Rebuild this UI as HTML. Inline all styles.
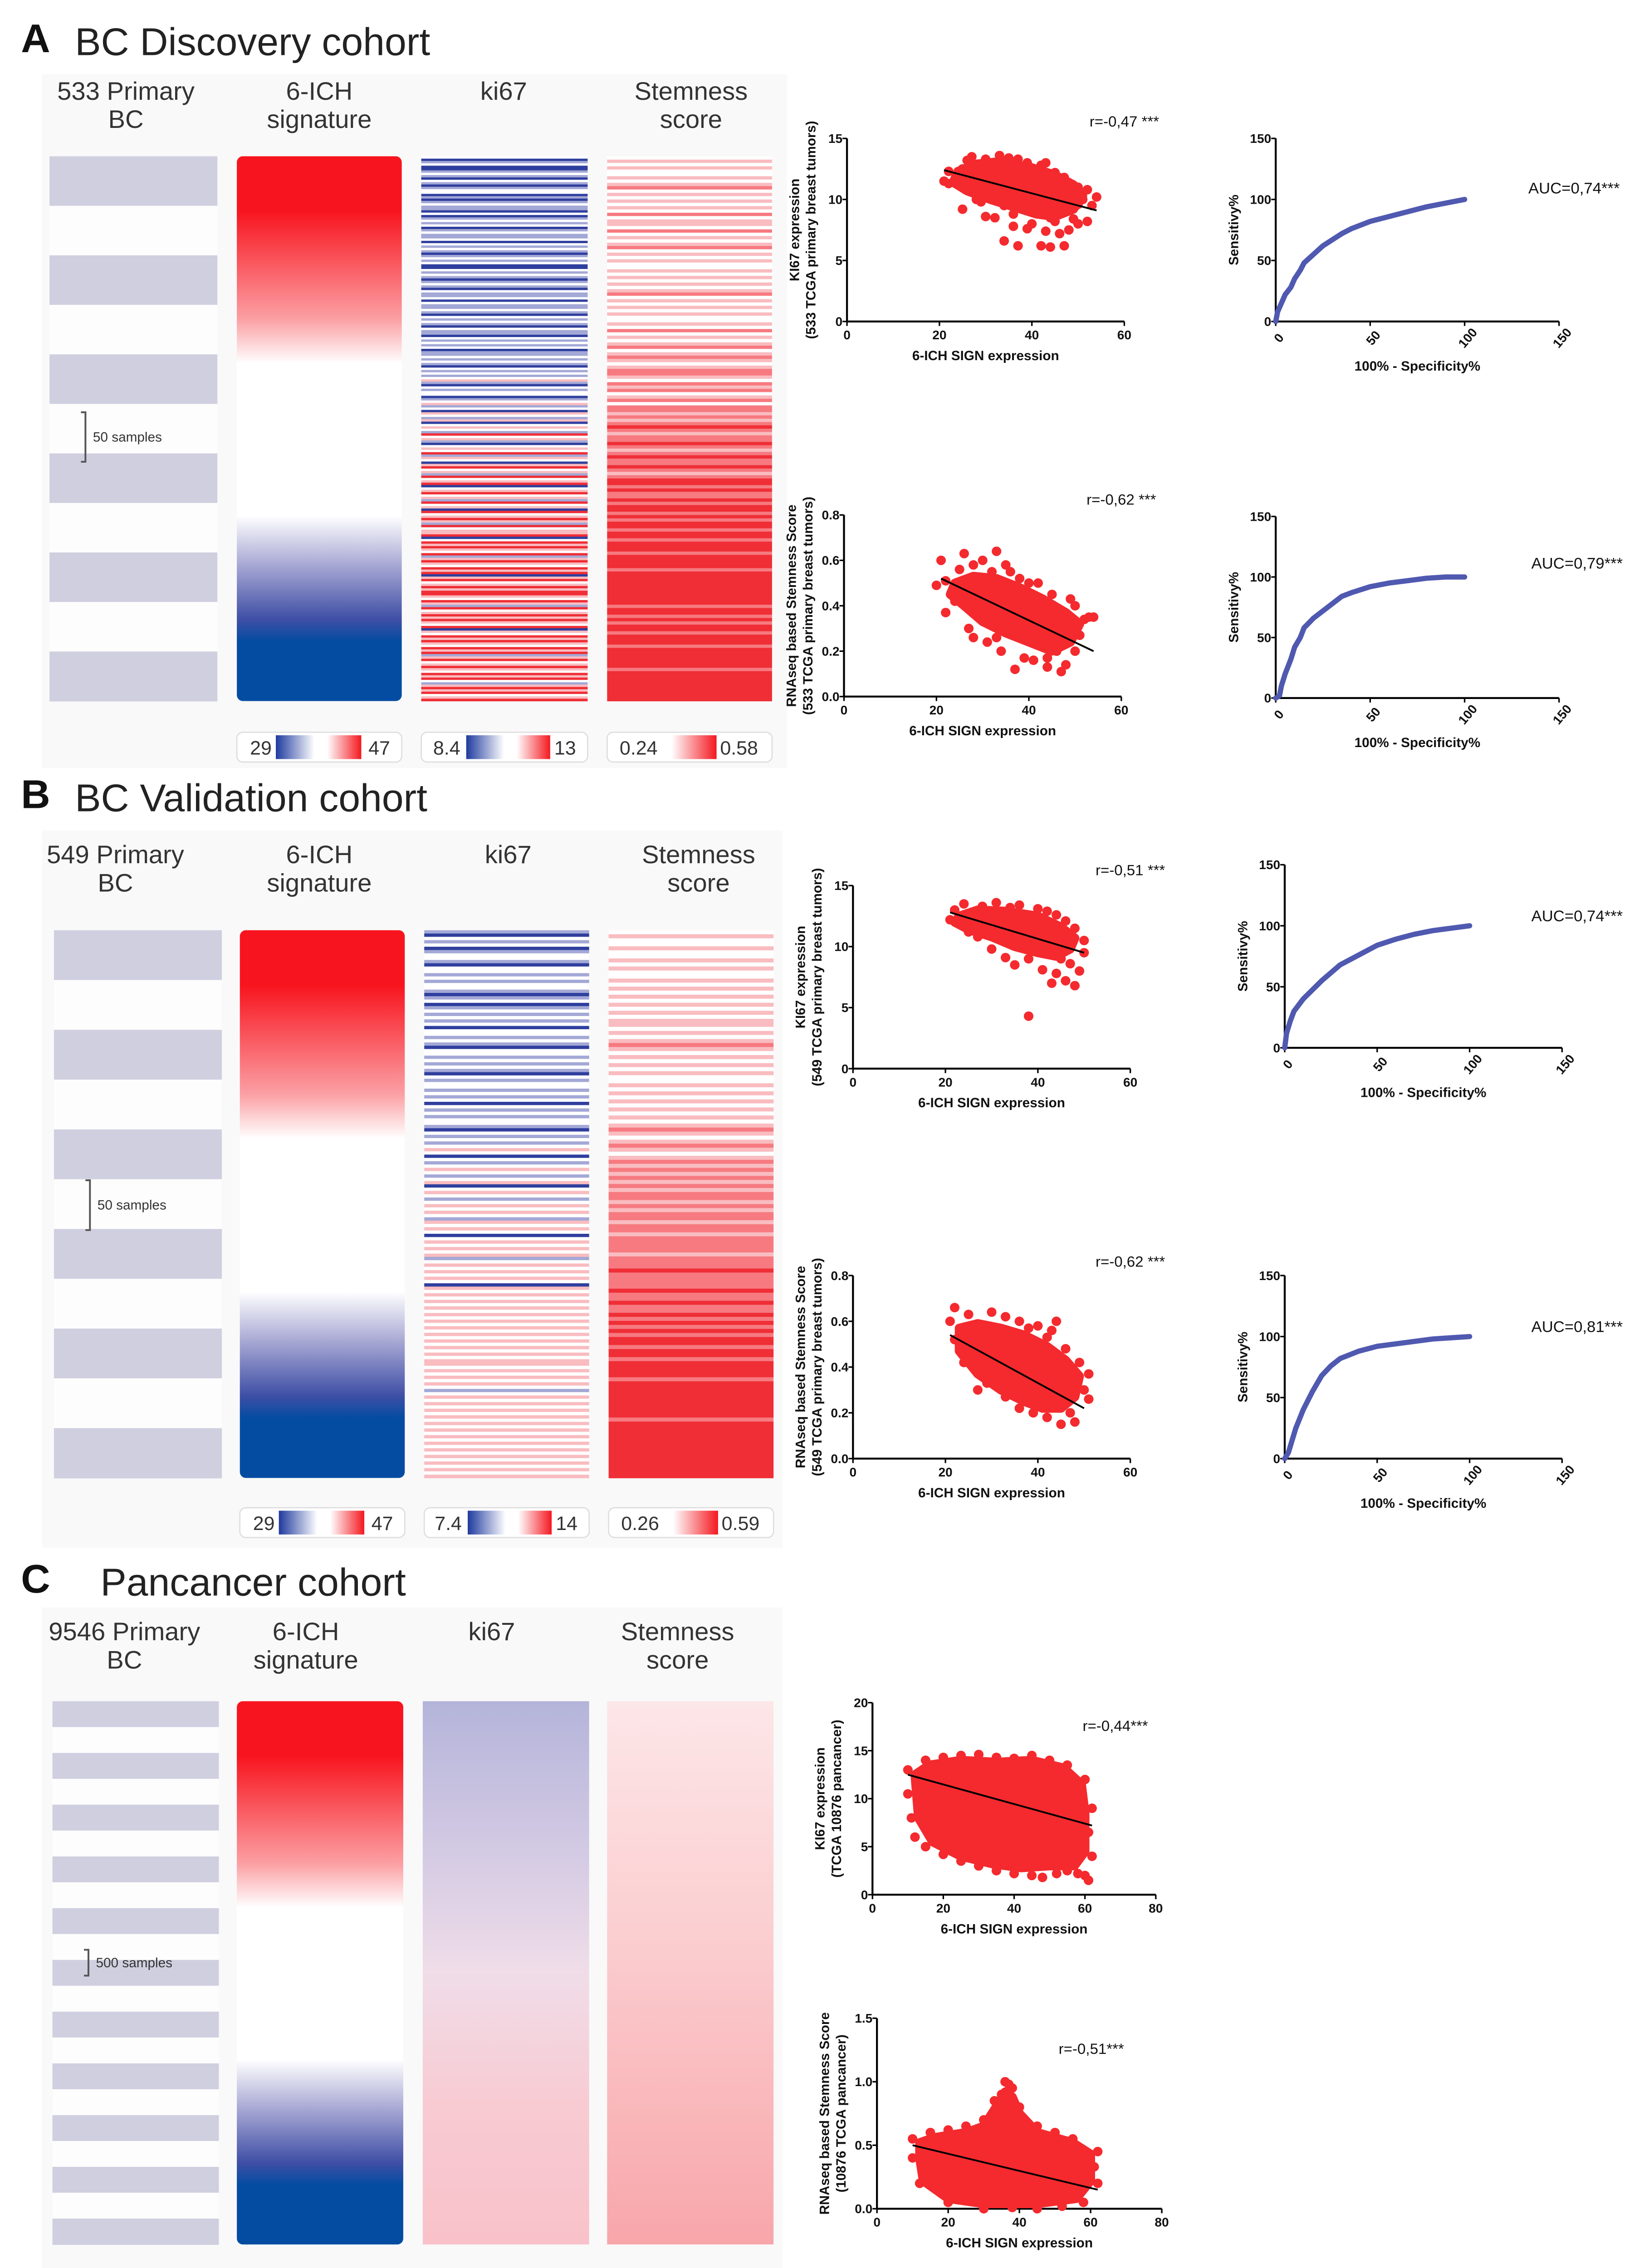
<!DOCTYPE html>
<html><head><meta charset="utf-8"><style>
html,body{margin:0;padding:0;background:#fff;overflow:hidden;width:3635px;height:5143px}
svg{display:block}
text{font-family:"Liberation Sans",Arial,sans-serif}
</style></head><body>
<svg id="fig" xmlns="http://www.w3.org/2000/svg" width="3635" height="5143" viewBox="0 0 1100 1567.4" preserveAspectRatio="none"></svg>
<script>
// ---------- DATA ----------
const scatterXTicks=[0,20,40,60];
const scatterXTicksC=[0,20,40,60,80];
const ki67YTicks=[0,5,10,15];
const stemYTicks=[0,0.2,0.4,0.6,0.8];
const ki67YTicksC=[0,5,10,15,20];
const stemYTicksC=[0,0.5,1.0,1.5];
const rocTicks=[0,50,100,150];

const a1Hull=[[24,12.3],[28,12.9],[33,13.1],[40,12.6],[45,12],[49,11.2],[51,10.3],[49,9.2],[45,8.6],[41,8.8],[36,9.4],[31,10],[26,10.7],[23,11.4]];
const a1Points=[[21,11.5],[22,11.3],[22,12.3],[24,11.2],[25,12.5],[25,9.2],[26,13.2],[27,13.5],[28,12.8],[29,9.8],[30,13.3],[31,13],[32,8.5],[33,13.3],[33,13.6],[34,9.5],[34,6.6],[35,13.4],[36,8.8],[37,6.2],[37,13.3],[38,9.6],[39,13],[40,8],[41,9.2],[42,6.2],[42,12.8],[43,13],[44,8.5],[44,6.1],[45,12.2],[46,7.2],[47,6.2],[47,11.8],[48,9.2],[48,7.5],[49,8.4],[50,9.6],[50,11],[51,10],[52,8.2],[52,10.8],[53,9.5],[54,10.2],[30,8.6],[39,7.6],[45,8.2],[28,10],[26,11.8],[36,7.8],[43,7.4],[46,10.8],[50,8]];
const a1Line=[[21,12.4],[54,9.1]];

const a2Hull=[[24,0.5],[28,0.53],[33,0.52],[38,0.48],[43,0.43],[48,0.37],[51,0.32],[49,0.24],[45,0.2],[40,0.24],[35,0.28],[30,0.33],[26,0.4],[23,0.45]];
const a2Points=[[21,0.6],[26,0.63],[33,0.64],[37,0.12],[42,0.5],[47,0.11],[44,0.13],[54,0.35],[20,0.49],[22,0.37],[28,0.26],[31,0.24],[50,0.4],[46,0.2],[30,0.6],[48,0.14],[51,0.27],[34,0.2],[39,0.17],[25,0.56],[28,0.58],[36,0.55],[38,0.52],[40,0.5],[45,0.45],[49,0.43],[52,0.34],[53,0.35],[50,0.2],[44,0.17],[41,0.16],[33,0.26],[27,0.3],[24,0.42],[22,0.51],[35,0.58],[47,0.3],[32,0.55]];
const a2Line=[[21,0.52],[54,0.2]];

const b1Hull=[[23,12.5],[27,13],[33,12.9],[40,12.5],[45,11.6],[48,10.7],[47,9.8],[44,9.2],[40,9.5],[35,10],[30,10.8],[25,11.4],[22,12]];
const b1Points=[[38,4.3],[43,7],[46,7.2],[48,6.8],[49,8],[35,8.5],[30,9.8],[22,13],[44,7.8],[41,8.1],[27,10.8],[33,9.1],[21,12.2],[24,13.5],[28,13.3],[31,13.6],[36,13.4],[40,13.1],[44,12.6],[46,12.1],[48,11.5],[50,10.5],[50,9.5],[47,8.6],[38,9],[25,11.2],[45,9],[42,12.9],[34,13.2]];
const b1Line=[[21,12.8],[50,9.5]];

const b2Hull=[[23,0.57],[27,0.59],[32,0.57],[37,0.54],[42,0.49],[46,0.43],[49,0.36],[48,0.27],[45,0.22],[41,0.22],[37,0.25],[32,0.3],[27,0.37],[23,0.47]];
const b2Points=[[22,0.66],[30,0.64],[40,0.58],[48,0.16],[45,0.15],[50,0.3],[27,0.3],[24,0.42],[36,0.22],[43,0.56],[21,0.6],[25,0.63],[33,0.62],[36,0.6],[42,0.53],[46,0.48],[49,0.42],[51,0.37],[51,0.26],[47,0.2],[42,0.18],[39,0.2],[33,0.27],[29,0.33],[22,0.52],[44,0.6],[38,0.57]];
const b2Line=[[21,0.54],[50,0.22]];

const c1Hull=[[12,12.5],[16,13.5],[25,14],[35,13.8],[45,14],[54,13.2],[59,11.5],[60,8.5],[60,4.5],[57,3],[50,3],[42,2.8],[34,3.2],[25,4],[17,5.5],[13,8]];
const c1Points=[[61,1.5],[58,2.2],[12,6],[48,1.8],[10,13],[15,14],[25,14.5],[35,14.3],[45,14.5],[55,13.5],[60,12],[62,9],[62,4],[60,2],[55,2.5],[45,2],[35,2.5],[25,3.5],[15,5],[11,8],[20,14.3],[30,14.6],[40,14.2],[50,14],[61,6.5],[52,2.2],[40,2.2],[30,3],[20,4.2],[10,10.5]];
const c1Line=[[10,12.5],[62,7.2]];

const c2Hull=[[12,0.52],[16,0.56],[25,0.6],[30,0.65],[33,0.78],[36,0.92],[38,0.88],[40,0.75],[45,0.6],[55,0.52],[60,0.43],[60,0.22],[56,0.08],[45,0.04],[30,0.04],[20,0.08],[13,0.22],[12,0.4]];
const c2Points=[[37,0.98],[35,0.9],[34,0.78],[10,0.55],[15,0.6],[25,0.65],[30,0.7],[33,0.85],[36,1.0],[38,0.95],[40,0.8],[45,0.65],[55,0.55],[62,0.45],[62,0.2],[58,0.05],[45,0],[30,0],[20,0.05],[12,0.2],[10,0.4],[50,0.6],[20,0.62],[38,0.01],[52,0.02],[61,0.33]];
const c2Line=[[10,0.5],[62,0.15]];

const rocA1=[[0,0],[1,8],[3,15],[5,22],[8,28],[10,35],[13,42],[15,48],[20,55],[25,62],[30,67],[35,72],[40,76],[50,82],[60,86],[70,90],[80,94],[90,97],[100,100]];
const rocA2=[[0,0],[2,2],[3,10],[5,20],[8,32],[10,42],[13,50],[15,58],[20,66],[25,72],[30,78],[35,84],[40,87],[50,92],[60,95],[70,97],[80,99],[90,100],[100,100]];
const rocB1=[[0,0],[1,12],[3,22],[5,30],[10,40],[20,55],[30,68],[40,76],[50,84],[60,89],[70,93],[80,96],[90,98],[100,100]];
const rocB2=[[0,0],[2,5],[4,15],[6,25],[10,40],[15,55],[20,68],[25,76],[30,82],[40,88],[50,92],[60,94],[70,96],[80,98],[90,99],[100,100]];

const ki67A="wBbwBBbwbBwbBbwwBbBbwbbBwBbwbwBbwbbwBwbwbBbwbwBBwbwbBbwbBwbbwBwbbwbBwbwbBwbbBwbwbwBbbwbwbBwbwbwpbBwbwwBbwpbwBpwbpBwpwbrwpbBwpwrbpwBprwpbrwprBwprwpbrwpBrwprpbrwpprBwrprpwrbprpwrprBprwprprrpwrpbrwprprpwrBpwrprpwrprbprwprpwrprwbprprwpr";
const stemA="wpwpwwpwpqwpwpwpwqwppwqwpwpqwpwpwwpwpwpwpqwpwpwpwwpwqwpwpqwpqpwpqqpwqpqwpqwqqpqpqrqpqqrqpqrqqrqpqrrqrqqrqrrqrqrrqrrqrrrqrrrrqrrrrrrrrrrqrrqrqrrqrrrqrrrrrrqrrrrrrrrr";
const ki67B="bBwbwBbwwbBwwbwbwwbBbwBbwbwbwBwwbwbBwwbwbwbBwbwwbwbwBwbwbwwbBwbwbwpwBwbwpwbwpBwpwbwpwpwbpwpwBwpwpwpbwpwpwpwBpwpwpwpwpwpwpwpwpwpwpwppwpwpwpwbwpwpwpwpwpwpwpwpwpwpwpwpwp";
const stemB="wpwwpwwpwpwwpwpwpwpwpwppwpwpqpwpwpwpwwpwpwpwpwpwpqpwpqpwpqpqpqpqpqqpqpqqpqqpqqqqpqqqrqqqqrqqrqqrqrqrqrrqrrqrrrrqrrrrrrrrrqrrrrrrrrrrrrrr";

// ---------- HELPERS ----------
const NS="http://www.w3.org/2000/svg";
const svg=document.getElementById('fig');
function mk(tag,attrs,parent){const e=document.createElementNS(NS,tag);for(const k in attrs)e.setAttribute(k,attrs[k]);(parent||svg).appendChild(e);return e;}
function txt(s,x,y,size,opts,parent){const o=Object.assign({x:x,y:y,'font-size':size,fill:'#222'},opts||{});const t=mk('text',o,parent);t.textContent=s;return t;}

let gid=0;
function grad(stops,vertical){const d=svg.querySelector('defs')||mk('defs',{});const id='g'+(gid++);const g=mk('linearGradient',vertical?{id:id,x1:0,y1:0,x2:0,y2:1}:{id:id,x1:0,y1:0,x2:1,y2:0},d);stops.forEach(s=>mk('stop',{offset:s[0],'stop-color':s[1]},g));return 'url(#'+id+')';}

const stripeColor={B:'#2f3f9e',b:'#a3a8d6',w:'#ffffff',p:'#f9bcc0',q:'#f67a80',r:'#ef2e36'};

function panel(label,title,tx,bg,heads,cols,bandCount,bracketY,bracketText,ki67,stem,legends,letterY){
  const g=mk('g',{});
  
  
  const bgr=mk('rect',{x:bg[0],y:bg[1],width:bg[2],height:bg[3],fill:'#f9f9f9'},g);
  
  
  const l=txt(label,14,letterY,27,{'font-weight':'bold',fill:'#111'},g);
  
  
  const t=txt(title,tx,letterY+2,26,{fill:'#222'},g);
  
  
  heads.forEach(h=>{h.lines.forEach((ln,i)=>{const e=txt(ln,h.cx,h.y+i*19,17,{'text-anchor':'middle',fill:'#333'},g);
    
    });});
  const [y0,y1]=cols.y;const H=y1-y0;
  const c1=cols.x[0];const bh=H/bandCount;
  for(let i=0;i<bandCount;i++){const r=mk('rect',{x:c1[0],y:y0+i*bh,width:c1[1]-c1[0],height:bh+0.3,fill:i%2==0?'#d0cfe0':'#fdfdfd'},g);
    
    }
  const bx=c1[0]+24;
  mk('path',{d:`M${bx-3},${bracketY} H${bx} V${bracketY+bh} H${bx-3}`,stroke:'#555',fill:'none','stroke-width':1.2},g);
  const st=txt(bracketText,bx+5,bracketY+bh/2+3,9,{fill:'#333'},g);
  
  
  const c2=cols.x[1];
  const sig=mk('rect',{x:c2[0],y:y0,width:c2[1]-c2[0],height:H,rx:4,fill:grad([[0,'#f8141e'],[0.1,'#f8141e'],[0.3,'#fba0a4'],[0.38,'#ffffff'],[0.66,'#ffffff'],[0.75,'#a8a8d4'],[0.85,'#3f4fa5'],[0.89,'#044ca2'],[1,'#044ca2']],true)},g);
  
  
  [[cols.x[2],ki67,'ki67-heatmap'],[cols.x[3],stem,'stemness-heatmap']].forEach(([c,s,nm])=>{
    if(typeof s==='string'){
      const rh=H/s.length;
      for(let i=0;i<s.length;i++){const r=mk('rect',{x:c[0],y:y0+i*rh,width:c[1]-c[0],height:rh+0.2,fill:stripeColor[s[i]]},g);
        
        }
    } else {
      const r=mk('rect',{x:c[0],y:y0,width:c[1]-c[0],height:H,fill:grad(s,true)},g);
      
      
    }
  });
  legends.forEach(lg=>{
    const bx=mk('rect',{x:lg.x,y:lg.y,width:lg.w,height:20,rx:4,fill:'#fff',stroke:'#ddd','stroke-width':0.8},g);
    
    
    const a=txt(lg.lo,lg.lx,lg.y+15,13,{'text-anchor':'middle',fill:'#333'},g);
    
    
    const gb=mk('rect',{x:lg.bx,y:lg.y+2,width:lg.bw,height:16,fill:grad(lg.stops,false)},g);
    
    
    const b=txt(lg.hi,lg.hx,lg.y+15,13,{'text-anchor':'middle',fill:'#333'},g);
    
    
  });
}

function axes(g,c,xt,yt,rotX,xl,ylLines){
  const sx=v=>c.ox+v/c.xmax*c.w, sy=v=>c.oy-v/c.ymax*c.h;
  mk('line',{x1:c.ox,y1:c.oy,x2:c.ox,y2:c.oy-c.h,stroke:'#000','stroke-width':1.3},g);
  mk('line',{x1:c.ox,y1:c.oy,x2:c.ox+c.w,y2:c.oy,stroke:'#000','stroke-width':1.3},g);
  yt.forEach(v=>{mk('line',{x1:c.ox-3,y1:sy(v),x2:c.ox,y2:sy(v),stroke:'#000','stroke-width':1},g);
    const s=c.ymax<2?v.toFixed(1):String(v);
    const t=txt(s,c.ox-3,sy(v)+3,8.5,{'text-anchor':'end','font-weight':'bold',fill:'#111'},g);
    
    });
  xt.forEach(v=>{mk('line',{x1:sx(v),y1:c.oy,x2:sx(v),y2:c.oy+3,stroke:'#000','stroke-width':1},g);
    let t;
    if(rotX){t=txt(String(v),sx(v)+2,c.oy+14,8.5,{'text-anchor':'middle','font-weight':'bold',fill:'#111',transform:`rotate(-50 ${sx(v)+2} ${c.oy+11})`},g);}
    else t=txt(String(v),sx(v),c.oy+12,8.5,{'text-anchor':'middle','font-weight':'bold',fill:'#111'},g);
    
    });
  const xt2=txt(xl,c.ox+c.w/2,c.oy+(rotX?33:26),9,{'text-anchor':'middle','font-weight':'bold',fill:'#111'},g);
  
  
  ylLines.forEach((s,i)=>{const x=c.ox-(rotX?25:32)+i*11;const y=c.oy-c.h/2;
    const t=txt(s,x,y,9,{'text-anchor':'middle','font-weight':'bold',fill:'#111',transform:`rotate(-90 ${x} ${y})`},g);
    
    });
  return [sx,sy];
}

function scatter(name,c,xt,yt,hull,pts,line,rlab,rpos,ylLines){
  const g=mk('g',{});
  
  
  const [sx,sy]=axes(g,c,xt,yt,false,'6-ICH SIGN expression',ylLines);
  const hp=mk('polygon',{points:hull.map(p=>sx(p[0])+','+sy(p[1])).join(' '),fill:'#f42a2e',stroke:'#f42a2e','stroke-width':6,'stroke-linejoin':'round'},g);
  
  
  pts.forEach(p=>{const d=mk('circle',{cx:sx(p[0]),cy:sy(p[1]),r:3.2,fill:'#f42a2e'},g);
    
    });
  const ln=mk('line',{x1:sx(line[0][0]),y1:sy(line[0][1]),x2:sx(line[1][0]),y2:sy(line[1][1]),stroke:'#000','stroke-width':1.2},g);
  
  
  const r=txt(rlab,rpos[0],rpos[1],10,{'text-anchor':'middle',fill:'#111'},g);
  
  
}

function roc(name,c,data,auc,apos){
  const g=mk('g',{});
  
  
  const [sx,sy]=axes(g,c,rocTicks,rocTicks,true,'100% - Specificity%',['Sensitivy%']);
  const p=mk('polyline',{points:data.map(d=>sx(d[0])+','+sy(d[1])).join(' '),fill:'none',stroke:'#5059b0','stroke-width':3.5,'stroke-linejoin':'round','stroke-linecap':'round'},g);
  
  
  const a=txt(auc,apos[0],apos[1],10.5,{'text-anchor':'middle',fill:'#111'},g);
  
  
}

const bwr=[[0,'#1f3a9e'],[0.45,'#ffffff'],[0.6,'#ffffff'],[1,'#f41820']];
const wr=[[0,'#ffffff'],[1,'#f41820']];

// ---------- PANEL A ----------
panel('A','BC Discovery cohort',50,[28,50,497,466],
 [{cx:84,y:67,lines:['533 Primary','BC']},{cx:213,y:67,lines:['6-ICH','signature']},{cx:336,y:67,lines:['ki67']},{cx:461,y:67,lines:['Stemness','score']}],
 {x:[[33,145],[158,268],[281,392],[405,515]],y:[105,471]},11,277,'50 samples',ki67A,stemA,
 [{x:158,y:492,w:110,lo:'29',lx:174,bx:184,bw:57,stops:bwr,hi:'47',hx:253},
  {x:281,y:492,w:111,lo:'8.4',lx:298,bx:311,bw:56,stops:bwr,hi:'13',hx:377},
  {x:405,y:492,w:110,lo:'0.24',lx:426,bx:448,bw:30,stops:wr,hi:'0.58',hx:493}],35);

scatter('scatter-a-ki67',{ox:565,oy:216,w:185,h:123,xmax:60,ymax:15},scatterXTicks,ki67YTicks,a1Hull,a1Points,a1Line,'r=-0,47 ***',[750,85],['KI67 expression','(533 TCGA primary breast tumors)']);
roc('roc-a-ki67',{ox:851,oy:216,w:189,h:123,xmax:150,ymax:150},rocA1,'AUC=0,74***',[1050,130]);
scatter('scatter-a-stemness',{ox:563,oy:468,w:185,h:122,xmax:60,ymax:0.8},scatterXTicks,stemYTicks,a2Hull,a2Points,a2Line,'r=-0,62 ***',[748,339],['RNAseq based Stemness Score','(533 TCGA primary breast tumors)']);
roc('roc-a-stemness',{ox:851,oy:469,w:189,h:122,xmax:150,ymax:150},rocA2,'AUC=0,79***',[1052,382]);

// ---------- PANEL B ----------
panel('B','BC Validation cohort',50,[28,558,494,482],
 [{cx:77,y:580,lines:['549 Primary','BC']},{cx:213,y:580,lines:['6-ICH','signature']},{cx:339,y:580,lines:['ki67']},{cx:466,y:580,lines:['Stemness','score']}],
 {x:[[36,148],[160,270],[283,393],[406,516]],y:[625,993]},11,793,'50 samples',ki67B,stemB,
 [{x:160,y:1013,w:110,lo:'29',lx:176,bx:186,bw:57,stops:bwr,hi:'47',hx:255},
  {x:283,y:1013,w:110,lo:'7.4',lx:299,bx:312,bw:56,stops:bwr,hi:'14',hx:378},
  {x:406,y:1013,w:110,lo:'0.26',lx:427,bx:449,bw:30,stops:wr,hi:'0.59',hx:494}],543);

scatter('scatter-b-ki67',{ox:569,oy:718,w:185,h:123,xmax:60,ymax:15},scatterXTicks,ki67YTicks,b1Hull,b1Points,b1Line,'r=-0,51 ***',[754,588],['KI67 expression','(549 TCGA primary breast tumors)']);
roc('roc-b-ki67',{ox:857,oy:704,w:185,h:123,xmax:150,ymax:150},rocB1,'AUC=0,74***',[1052,619]);
scatter('scatter-b-stemness',{ox:569,oy:980,w:185,h:123,xmax:60,ymax:0.8},scatterXTicks,stemYTicks,b2Hull,b2Points,b2Line,'r=-0,62 ***',[754,851],['RNAseq based Stemness Score','(549 TCGA primary breast tumors)']);
roc('roc-b-stemness',{ox:857,oy:980,w:185,h:123,xmax:150,ymax:150},rocB2,'AUC=0,81***',[1052,895]);

// ---------- PANEL C ----------
panel('C','Pancancer cohort',67,[28,1080,494,476],
 [{cx:83,y:1102,lines:['9546 Primary','BC']},{cx:204,y:1102,lines:['6-ICH','signature']},{cx:328,y:1102,lines:['ki67']},{cx:452,y:1102,lines:['Stemness','score']}],
 {x:[[35,146],[158,269],[282,393],[405,516]],y:[1143,1508]},21,1310,'500 samples',
 [[0,'#b4b4da'],[0.3,'#d6cce4'],[0.5,'#f0dde8'],[0.75,'#f8cad2'],[1,'#f9c2ca']],
 [[0,'#fde6e8'],[0.4,'#fbd0d2'],[1,'#f8a6aa']],
 [{x:158,y:1530,w:111,lo:'22',lx:174,bx:184,bw:57,stops:bwr,hi:'49',hx:254},
  {x:282,y:1530,w:111,lo:'5.6',lx:299,bx:312,bw:56,stops:bwr,hi:'14',hx:378},
  {x:405,y:1530,w:111,lo:'0.25',lx:427,bx:449,bw:30,stops:wr,hi:'0.88',hx:494}],1070);

scatter('scatter-c-ki67',{ox:582,oy:1273,w:189,h:129,xmax:80,ymax:20},scatterXTicksC,ki67YTicksC,c1Hull,c1Points,c1Line,'r=-0,44***',[744,1163],['KI67 expression','(TCGA 10876 pancancer)']);
scatter('scatter-c-stemness',{ox:585,oy:1484,w:190,h:128,xmax:80,ymax:1.5},scatterXTicksC,stemYTicksC,c2Hull,c2Points,c2Line,'r=-0,51***',[728,1380],['RNAseq based Stemness Score','(10876 TCGA pancancer)']);
</script>
</body></html>
